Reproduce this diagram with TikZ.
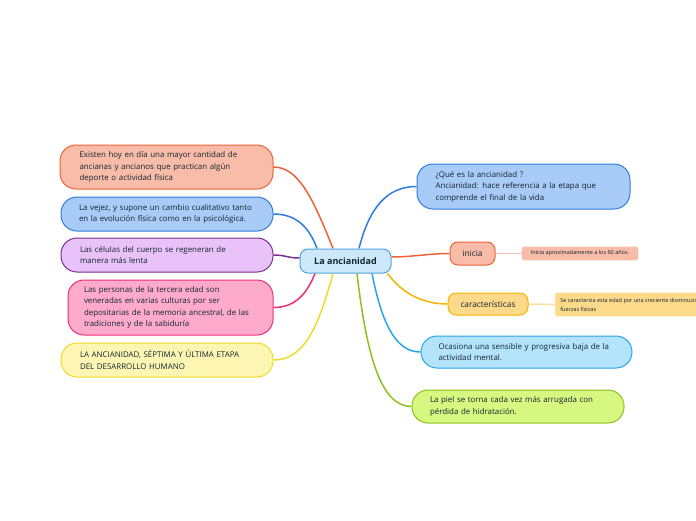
\documentclass[tikz,border=0pt]{standalone}
\usepackage{fontspec}
\setmainfont{Open Sans}
\usetikzlibrary{calc, backgrounds}

\definecolor{ink}{HTML}{112530}
\definecolor{rootfill}{HTML}{CDE8FA}
\definecolor{rootline}{HTML}{4FA3DD}
\definecolor{redfill}{HTML}{F8BCA8}
\definecolor{redline}{HTML}{EF6236}
\definecolor{bluefill}{HTML}{A9CBF8}
\definecolor{blueline}{HTML}{2E7CE0}
\definecolor{purplefill}{HTML}{E9C2FA}
\definecolor{purpleline}{HTML}{7A2D8F}
\definecolor{pinkfill}{HTML}{FDAACB}
\definecolor{pinkline}{HTML}{EE2E7A}
\definecolor{yellowfill}{HTML}{FDF6B2}
\definecolor{yellowline}{HTML}{F0DA2A}
\definecolor{skyfill}{HTML}{B3E4FB}
\definecolor{skyline}{HTML}{27A6EA}
\definecolor{greenfill}{HTML}{D6F880}
\definecolor{greenline}{HTML}{8CC21D}
\definecolor{goldfill}{HTML}{FDD98A}
\definecolor{goldline}{HTML}{F6B400}
\definecolor{palered}{HTML}{F7C2B2}
\definecolor{palegold}{HTML}{FCE0A0}

\begin{document}
\begin{tikzpicture}[
  x=1pt, y=1pt,
  topic/.style={rectangle, rounded corners=16pt, draw, line width=1pt, align=left, text=ink, inner sep=0pt, font=\fontsize{7.9}{11.5}\selectfont},
  tag/.style={rectangle, rounded corners=8pt, draw, line width=1pt, align=center, text=ink, font=\fontsize{8.3}{10}\selectfont},
  note/.style={rectangle, rounded corners=2pt, draw, line width=0.6pt, align=left, text=ink, font=\fontsize{5.5}{9}\selectfont},
  link/.style={line width=1.5pt}
]
\useasboundingbox (0,0) rectangle (696,-520);

% -------------------------
% CENTRAL TOPIC
% -------------------------
\node[draw=rootline, fill=rootfill, line width=1pt, rounded corners=8pt, minimum width=91pt, minimum height=24pt, inner sep=0pt, font=\bfseries\fontsize{9}{11}\selectfont, text=ink] (root) at (345.5,-261) {La ancianidad};

% -------------------------
% LEFT BRANCHES
% -------------------------
\node[topic, draw=redline, fill=redfill, minimum width=213pt, minimum height=44pt, text width=174pt] (existen) at (166.5,-167) {Existen hoy en día una mayor cantidad de\\ancianas y ancianos que practican algún\\deporte o actividad física};
\node[topic, draw=blueline, fill=bluefill, minimum width=212pt, minimum height=34pt, text width=176pt] (vejez) at (167,-214) {La vejez, y supone un cambio cualitativo tanto\\en la evolución física como en la psicológica.};
\node[topic, draw=purpleline, fill=purplefill, minimum width=212pt, minimum height=34pt, text width=174pt] (celulas) at (167,-255) {Las células del cuerpo se regeneran de\\manera más lenta};
\node[topic, draw=pinkline, fill=pinkfill, minimum width=205pt, minimum height=55pt, text width=173pt] (personas) at (170.5,-307.5) {Las personas de la tercera edad son\\veneradas en varias culturas por ser\\depositarias de la memoria ancestral, de las\\tradiciones y de la sabiduría};
\node[topic, draw=yellowline, fill=yellowfill, minimum width=212pt, minimum height=34pt, text width=174pt] (etapa) at (167,-360) {LA ANCIANIDAD, SÉPTIMA Y ÚLTIMA ETAPA\\DEL DESARROLLO HUMANO};

% -------------------------
% RIGHT BRANCHES
% -------------------------
\node[topic, draw=blueline, fill=bluefill, minimum width=213pt, minimum height=45pt, text width=176pt] (que) at (523.5,-186.5) {¿Qué es la ancianidad ?\\Ancianidad: hace referencia a la etapa que\\comprende el final de la vida};
\node[tag, draw=redline, fill=redfill, minimum width=45pt, minimum height=23pt, inner sep=0pt] (inicia) at (472.5,-253.5) {inicia};
\node[note, draw=palered, fill=redfill, minimum width=116pt, minimum height=13pt, inner sep=0pt] (sesenta) at (580,-253.5) {Inicia aproximadamente a los 60 años.};
\node[tag, draw=goldline, fill=goldfill, minimum width=80pt, minimum height=22pt, inner sep=0pt] (caract) at (488,-304) {características};
\node[note, draw=palegold, fill=goldfill, minimum height=23pt, inner xsep=5pt, anchor=west] (fuerzas) at (555,-304.5) {Se caracteriza esta edad por una creciente disminución de las\\fuerzas físicas};
\node[topic, draw=skyline, fill=skyfill, minimum width=211pt, minimum height=32pt, text width=176pt] (mental) at (526.5,-352) {Ocasiona una sensible y progresiva baja de la\\actividad mental.};
\node[topic, draw=greenline, fill=greenfill, minimum width=212pt, minimum height=33pt, text width=176pt] (piel) at (518,-406.5) {La piel se torna cada vez más arrugada con\\pérdida de hidratación.};

% -------------------------
% CONNECTORS
% -------------------------
\coordinate (r-existen) at ([xshift=-12.5pt]root.north);
\coordinate (r-vejez) at ([xshift=-28.5pt]root.north);
\coordinate (r-celulas) at ([yshift=3pt]root.west);
\coordinate (r-personas) at ([xshift=-30.5pt]root.south);
\coordinate (r-etapa) at ([xshift=-12.5pt]root.south);
\coordinate (r-que) at ([xshift=13.5pt]root.north);
\coordinate (r-inicia) at ([yshift=4pt]root.east);
\coordinate (r-caract) at ([xshift=-4pt]root.south east);
\coordinate (r-mental) at ([xshift=26.5pt]root.south);
\coordinate (r-piel) at ([xshift=11.5pt]root.south);

\begin{pgfonlayer}{background}
  \draw[link, redline] (r-existen) .. controls +(-20,50) and +(25,0) .. (existen.east);
  \draw[link, blueline] (r-vejez) .. controls +(-8,22) and +(22,0) .. (vejez.east);
  \draw[link, purpleline] (r-celulas) .. controls +(-12,0) and +(12,0) .. (celulas.east);
  \draw[link, pinkline] (r-personas) .. controls +(-8,-20) and +(22,0) .. (personas.east);
  \draw[link, yellowline] (r-etapa) .. controls +(-15,-55) and +(30,0) .. (etapa.east);
  \draw[link, blueline] (r-que) .. controls +(10,40) and +(-30,0) .. (que.west);
  \draw[link, redline] (r-inicia) .. controls +(20,0) and +(-20,0) .. (inicia.west);
  \draw[link, goldline] (r-caract) .. controls +(15,-20) and +(-25,0) .. (caract.west);
  \draw[link, skyline] (r-mental) .. controls +(10,-50) and +(-25,0) .. (mental.west);
  \draw[link, greenline] (r-piel) .. controls +(10,-85) and +(-30,0) .. (piel.west);
  \draw[link, palered] (inicia.east) -- (sesenta.west);
  \draw[link, palegold] (caract.east) -- (fuerzas.west);
\end{pgfonlayer}

\end{tikzpicture}
\end{document}
